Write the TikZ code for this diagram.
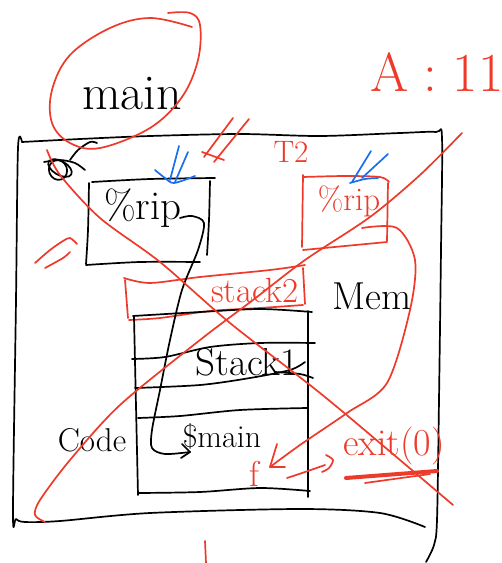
\documentclass[tikz,border=0pt]{standalone}
\usetikzlibrary{arrows.meta}
\begin{document}
\begin{tikzpicture}[x=1pt,y=-1pt,
  pen/.style={line width=1.7pt,line cap=round,line join=round},
  blk/.style={pen,draw=black},
  redp/.style={pen,draw=inkred},
  bluep/.style={pen,draw=inkblue},
  btxt/.style={text=black,inner sep=0pt},
  rtxt/.style={text=inkred,inner sep=0pt}]
\definecolor{inkred}{HTML}{EE3A2A}
\definecolor{inkblue}{HTML}{1A6FF0}
\useasboundingbox (0,0) rectangle (502,563);
\fill[white] (0,0) rectangle (502,563);

% outer memory box
\draw[blk] plot[smooth,tension=0.5] coordinates {(22,142) (80,139) (150,136) (240,134) (320,136) (400,133) (436,132) (442,138) (441,250) (439,400) (437,520) (434,545) (426,562)};
\draw[blk] plot[smooth,tension=0.5] coordinates {(22,142) (18,148) (16,300) (13,512) (16,519) (25,522) (60,521) (150,513) (300,509) (380,513) (425,527)};

% scribble top-left
\draw[blk] (60,168) ellipse [x radius=13,y radius=7,rotate=-30];
\draw[blk] (58,170) ellipse [x radius=9,y radius=10,rotate=20];
\draw[blk] plot[smooth,tension=0.5] coordinates {(44,162) (60,160) (75,163) (85,170)};
\draw[blk] plot[smooth,tension=0.5] coordinates {(70,160) (78,150) (90,142) (97,143)};

% main label with red ellipse
\node[btxt,font=\fontsize{50}{50}\selectfont] (main) at (132,94) {main};
\draw[redp] plot[smooth,tension=0.6] coordinates {(192,27) (150,18) (110,28) (70,55) (52,90) (52,123) (70,143) (100,148) (150,128) (182,97) (198,60) (200,25) (190,13) (168,13)};

% A : 11
\node[rtxt,font=\fontsize{55}{55}\selectfont] (a11) at (437,72) {A\;:\;11};

% black %rip box
\draw[blk] plot[smooth,tension=0.5] coordinates {(92,182) (150,179) (215,178)};
\draw[blk] plot[smooth,tension=0.5] coordinates {(89,183) (88,230) (86,264)};
\draw[blk] plot[smooth,tension=0.5] coordinates {(86,265) (140,262) (200,262)};
\draw[blk] plot[smooth,tension=0.5] coordinates {(210,181) (209,220) (207,255)};
\node[btxt,font=\fontsize{41}{41}\selectfont] (ripA) at (143,208) {\%rip};

% blue arrow into black %rip
\draw[bluep] plot[smooth,tension=0.5] coordinates {(155,170) (165,178) (174,183) (195,176)};
\draw[bluep] (179,146) -- (170,180);
\draw[bluep] (188,152) -- (175,182);

% red double stroke marks
\draw[redp] (233,118) -- (204,157);
\draw[redp] (249,119) -- (214,162);
\draw[redp] (202,152) -- (224,160);

% T2 and red %rip box
\node[rtxt,font=\fontsize{31}{31}\selectfont] (t2) at (291,152) {T2};
\draw[redp] plot[smooth,tension=0.5] coordinates {(303,177) (345,176) (380,177) (389,182)};
\draw[redp] (303,175) -- (302,247);
\draw[redp] plot[smooth,tension=0.5] coordinates {(303,250) (345,246) (387,242)};
\draw[redp] (388,183) -- (387,241);
\node[rtxt,font=\fontsize{33}{33}\selectfont] (ripB) at (349,201) {\%rip};

% blue arrow into red %rip
\draw[bluep] (371,151) -- (352,182);
\draw[bluep] (388,154) -- (362,178);
\draw[bluep] plot[smooth,tension=0.5] coordinates {(350,183) (365,179) (378,178)};

% red double arrow at left
\draw[redp] plot[smooth,tension=0.5] coordinates {(35,263) (50,250) (63,241) (70,238) (77,244)};
\draw[redp] plot[smooth,tension=0.5] coordinates {(45,268) (63,258) (70,252)};

% red stack2 box
\draw[redp] plot[smooth,tension=0.5] coordinates {(124,278) (150,283) (200,277) (270,270) (305,265)};
\draw[redp] (125,280) -- (128,318);
\draw[redp] plot[smooth,tension=0.5] coordinates {(129,320) (160,318) (210,311) (260,308) (303,305)};
\draw[redp] (303,268) -- (305,304);
\node[rtxt,font=\fontsize{35}{35}\selectfont] (stack2) at (255,290) {stack2};

% Mem
\node[btxt,font=\fontsize{39}{39}\selectfont] (mem) at (372,296) {Mem};

% stack columns
\draw[blk] (134,317) -- (138,495);
\draw[blk] (308,311) -- (308,497);
\draw[blk] plot[smooth,tension=0.5] coordinates {(133,316) (200,312) (260,309) (312,312)};
\draw[blk] plot[smooth,tension=0.5] coordinates {(132,359) (165,357) (210,347) (260,343) (315,343)};
\draw[blk] plot[smooth,tension=0.5] coordinates {(135,388) (200,385) (250,378) (290,370) (305,362)};
\draw[blk] plot[smooth,tension=0.5] coordinates {(275,372) (300,374) (313,378)};
\draw[blk] plot[smooth,tension=0.5] coordinates {(138,418) (180,416) (240,410) (307,408)};
\draw[blk] plot[smooth,tension=0.5] coordinates {(138,493) (200,492) (260,488) (310,491)};
\node[btxt,font=\fontsize{39}{39}\selectfont] (stack1) at (247,362) {Stack1};

% Code
\node[btxt,font=\fontsize{33}{33}\selectfont] (code) at (92,440) {Code};

% $main
\node[btxt,font=\fontsize{32}{32}\selectfont] (smain) at (222,436) {\$main};
\coordinate (ripAout) at (180,218);
\coordinate (smainin) at (190,452);
\draw[blk] plot[smooth,tension=0.5] coordinates {(ripAout) (192,216) (204,223) (198,250) (182,290) (170,340) (160,390) (152,430) (152,448) (165,454) (smainin)};
\draw[blk] (182,444) -- (smainin) -- (181,458);

% f and exit(0)
\node[rtxt,font=\fontsize{36}{36}\selectfont] (f) at (254,474) {f};
\node[rtxt,font=\fontsize{38}{38}\selectfont] (exit) at (394,446) {exit(0)};
\coordinate (ripBout) at (362,228);
\coordinate (fin) at (270,467);
\draw[redp] plot[smooth,tension=0.5] coordinates {(ripBout) (397,228) (415,260) (410,310) (387,383) (347,413) (300,445) (fin)};
\draw[redp] (277,444) -- (fin) -- (285,467);
\coordinate (fout) at (287,478);
\coordinate (exitin) at (333,460);
\draw[redp] plot[smooth,tension=0.5] coordinates {(fout) (305,472) (325,465)};
\draw[redp] plot[smooth,tension=0.5] coordinates {(326,455) (333,460) (329,468) (322,472)};
\draw[inkred,line width=4pt,line cap=round] (346,478) -- (437,471);
\draw[redp] (365,483) -- (430,474);

% big red X
\draw[redp] plot[smooth,tension=0.5] coordinates {(47,150) (60,175) (100,218) (160,262) (230,323) (320,393) (400,460) (453,505)};
\draw[redp] plot[smooth,tension=0.5] coordinates {(462,133) (420,175) (370,217) (305,260) (253,300) (200,340) (120,405) (70,460) (40,500) (35,515) (45,522)};

% red mark below
\draw[redp] (205,541) -- (206,563);
\end{tikzpicture}
\end{document}
